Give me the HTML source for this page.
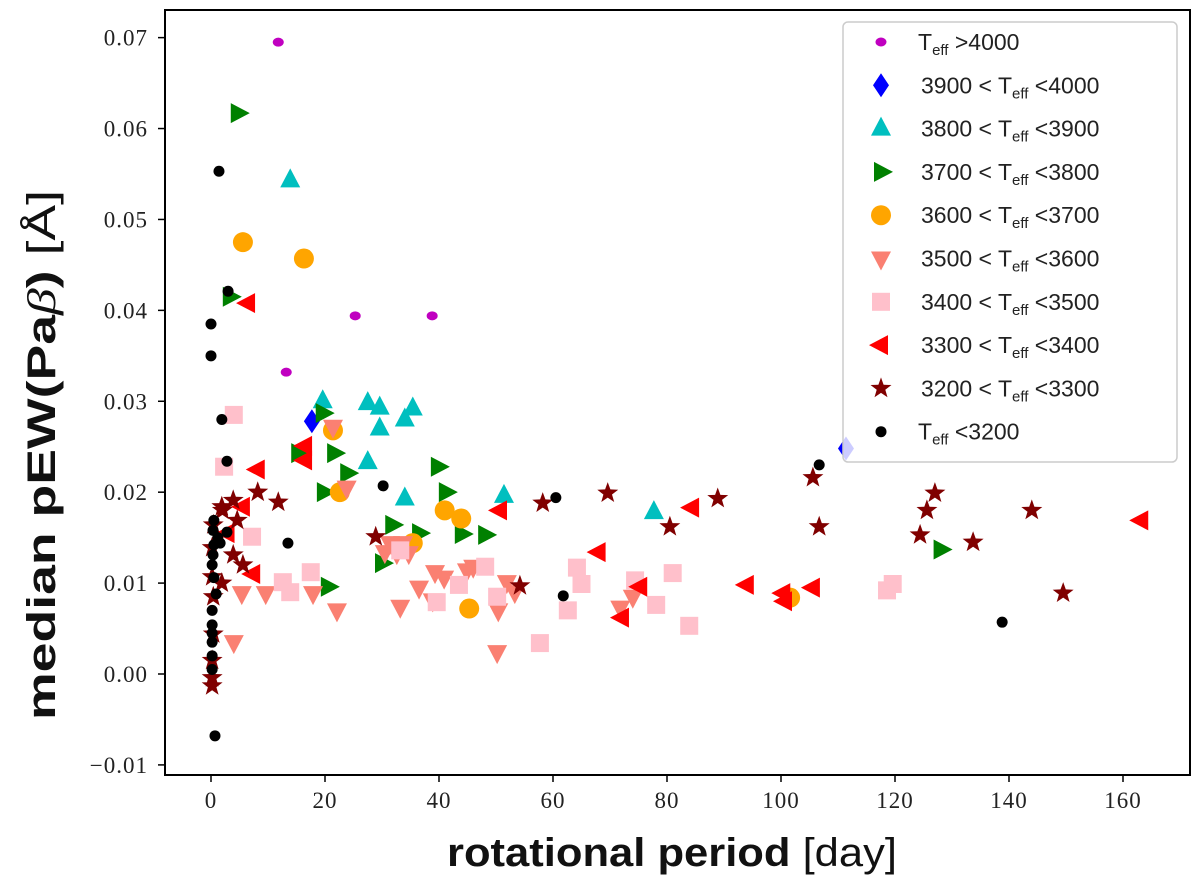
<!DOCTYPE html>
<html><head><meta charset="utf-8"><style>
html,body{margin:0;padding:0;background:#fff;}
svg{display:block;}
.tick{font-family:"Liberation Serif",serif;font-size:23px;fill:#222;letter-spacing:1px;}
.leg{font-family:"Liberation Sans",sans-serif;font-size:23px;fill:#222;}
</style></head><body>
<svg id="chart" width="1200" height="879" viewBox="0 0 1200 879" xmlns="http://www.w3.org/2000/svg">
<rect x="165" y="10" width="1025" height="765" fill="#fff" stroke="#000" stroke-width="2"/>
<g id="ticks"></g>
<g id="marks"></g>
<text x="55" y="455" transform="rotate(-90 55 455)" text-anchor="middle" textLength="530" lengthAdjust="spacingAndGlyphs" font-family="Liberation Sans, sans-serif" font-size="40" fill="#111"><tspan font-weight="bold">median pEW(Pa</tspan><tspan font-style="italic" font-family="Liberation Serif, serif">β</tspan><tspan font-weight="bold">)</tspan> [Å]</text>
<text x="672" y="866" text-anchor="middle" textLength="450" lengthAdjust="spacingAndGlyphs" font-family="Liberation Sans, sans-serif" font-size="40" fill="#111"><tspan font-weight="bold">rotational period</tspan> [day]</text>
<g id="legend"></g>
</svg>
<script>
const xTicks=[0,20,40,60,80,100,120,140,160];
const yTicks=[-0.01,0.00,0.01,0.02,0.03,0.04,0.05,0.06,0.07];
const yTickLabels=["−0.01","0.00","0.01","0.02","0.03","0.04","0.05","0.06","0.07"];
const sHot_x=[11.8,25.3,38.8,13.2];
const sHot_y=[0.0695,0.0394,0.0394,0.0332];
const s3900_x=[17.7,111.4];
const s3900_y=[0.0278,0.0248];
const s3800_x=[13.9,19.6,27.5,29.6,29.6,34,35.4,27.5,34,51.4,77.7];
const s3800_y=[0.0543,0.0300,0.0298,0.0293,0.0270,0.0280,0.0292,0.0233,0.0193,0.0196,0.0178];
const s3700_x=[4.7,3.3,19.6,15.3,21.6,23.9,19.8,39.8,41.2,31.8,36.5,44,48.1,30,20.5,128];
const s3700_y=[0.0617,0.0415,0.0287,0.0243,0.0243,0.0221,0.0200,0.0228,0.0200,0.0164,0.0155,0.0154,0.0153,0.0122,0.0096,0.0137];
const s3600_x=[5.6,16.3,21.4,22.6,41,43.9,35.4,45.3,101.6];
const s3600_y=[0.0475,0.0457,0.0268,0.0200,0.0180,0.0171,0.0144,0.0072,0.0084];
const s3500_x=[21.4,23.8,31.4,33.7,32.6,34.7,30.5,5.4,9.6,17.9,22.1,33.2,36.5,39.3,40.9,38.9,44.9,46,51.9,53.3,50.4,50.2,4,74,71.8];
const s3500_y=[0.0272,0.0205,0.0144,0.0144,0.0133,0.0133,0.0134,0.0089,0.0089,0.0089,0.0070,0.0074,0.0095,0.0112,0.0106,0.0081,0.0114,0.0118,0.0101,0.0090,0.0070,0.0024,0.0035,0.0085,0.0073];
const s3400_x=[4,2.3,7.2,12.6,13.9,17.5,33.2,39.6,43.5,48.1,50.2,57.7,62.6,64.2,65,74.4,78.1,81,83.9,118.6,119.6];
const s3400_y=[0.0285,0.0228,0.0151,0.0101,0.0090,0.0112,0.0136,0.0079,0.0098,0.0118,0.0085,0.0034,0.0070,0.0117,0.0099,0.0103,0.0076,0.0111,0.0053,0.0092,0.0099];
const s3300_x=[6.5,8.2,16.5,16.5,5.6,7.4,2.9,50.7,84.4,68,75.3,72.1,94,100.4,100.7,105.6,163.2];
const s3300_y=[0.0408,0.0225,0.0251,0.0235,0.0184,0.0110,0.0155,0.0180,0.0183,0.0134,0.0096,0.0062,0.0098,0.0089,0.0080,0.0095,0.0169];
const s3200_x=[0.4,0.2,0.2,0.4,0.4,0.2,0.2,0.2,1.9,3.9,4.6,3.9,5.6,1.9,8.2,11.8,2,28.9,54.2,69.6,58.2,80.5,88.9,105.6,106.7,127,125.6,124.4,144,133.7,149.5];
const s3200_y=[0.0164,0.0139,0.0107,0.0085,0.0044,0.0015,-0.0004,-0.0013,0.0184,0.0191,0.0169,0.0131,0.0120,0.0100,0.0200,0.0189,0.0180,0.0151,0.0097,0.0199,0.0188,0.0162,0.0193,0.0216,0.0162,0.0199,0.0180,0.0153,0.0180,0.0145,0.0089];
const sCool_x=[1.4,3,0,0,1.9,2.8,13.5,30.2,60.5,106.7,61.8,138.8,0.5,0.35,1.2,0.5,0.35,0.2,0.5,0.9,0.2,0.2,0.2,0.2,0.2,0.2,0.7,2.8,1.6];
const sCool_y=[0.0553,0.0421,0.0385,0.0350,0.0280,0.0234,0.0144,0.0207,0.0194,0.0230,0.0086,0.0057,0.0169,0.0158,0.0150,0.0142,0.0131,0.0120,0.0106,0.0088,0.0070,0.0054,0.0045,0.0035,0.0020,0.0005,-0.0068,0.0156,0.0144];

const NS="http://www.w3.org/2000/svg";
function X(v){return 211+v*5.7;}
function Y(v){return 674-v*9091;}
function mk(tag,attrs,parent){const e=document.createElementNS(NS,tag);for(const k in attrs)e.setAttribute(k,attrs[k]);parent.appendChild(e);return e;}
const ticks=document.getElementById('ticks');
xTicks.forEach(t=>{
  const l=mk('line',{x1:X(t),x2:X(t),y1:775,y2:782,stroke:'#000','stroke-width':1.5},ticks);
  
  
  const tx=mk('text',{x:X(t),y:808,'text-anchor':'middle',class:'tick'},ticks);tx.textContent=t;
  
  
});
yTicks.forEach((t,i)=>{
  const l=mk('line',{x1:158,x2:165,y1:Y(t),y2:Y(t),stroke:'#000','stroke-width':1.5},ticks);
  
  
  const tx=mk('text',{x:148,y:Y(t)+8,'text-anchor':'end',class:'tick'},ticks);tx.textContent=yTickLabels[i];
  
  
});
function shape(kind,cx,cy,color,parent){
  let e;
  if(kind==='dotS')e=mk('ellipse',{cx,cy,rx:5.5,ry:4.5,fill:color},parent);
  else if(kind==='dot')e=mk('circle',{cx,cy,r:5.5,fill:color},parent);
  else if(kind==='circ')e=mk('circle',{cx,cy,r:10,fill:color},parent);
  else if(kind==='diam')e=mk('polygon',{points:`${cx},${cy-12} ${cx+8},${cy} ${cx},${cy+12} ${cx-8},${cy}`,fill:color},parent);
  else if(kind==='up')e=mk('polygon',{points:`${cx},${cy-12} ${cx+10},${cy+7} ${cx-10},${cy+7}`,fill:color},parent);
  else if(kind==='down')e=mk('polygon',{points:`${cx},${cy+12} ${cx+10},${cy-7} ${cx-10},${cy-7}`,fill:color},parent);
  else if(kind==='right')e=mk('polygon',{points:`${cx+12},${cy} ${cx-7},${cy+10} ${cx-7},${cy-10}`,fill:color},parent);
  else if(kind==='left')e=mk('polygon',{points:`${cx-12},${cy} ${cx+7},${cy+10} ${cx+7},${cy-10}`,fill:color},parent);
  else if(kind==='sq')e=mk('rect',{x:cx-9,y:cy-9,width:18,height:18,fill:color},parent);
  else if(kind==='star'){let p=[];for(let i=0;i<10;i++){const r=i%2?4.5:11;const a=-Math.PI/2+i*Math.PI/5;p.push((cx+r*Math.cos(a)).toFixed(1)+','+(cy+r*Math.sin(a)).toFixed(1));}e=mk('polygon',{points:p.join(' '),fill:color},parent);}
  return e;
}
const series=[
 {xs:sHot_x,ys:sHot_y,k:'dotS',c:'#c000c0',lab:['',' >4000'],name:'teff-above-4000'},
 {xs:s3900_x,ys:s3900_y,k:'diam',c:'#0000ff',lab:['3900 < ',' <4000'],name:'teff-3900-4000'},
 {xs:s3800_x,ys:s3800_y,k:'up',c:'#00bfbf',lab:['3800 < ',' <3900'],name:'teff-3800-3900'},
 {xs:s3700_x,ys:s3700_y,k:'right',c:'#008000',lab:['3700 < ',' <3800'],name:'teff-3700-3800'},
 {xs:s3600_x,ys:s3600_y,k:'circ',c:'#ffa500',lab:['3600 < ',' <3700'],name:'teff-3600-3700'},
 {xs:s3500_x,ys:s3500_y,k:'down',c:'#fa8072',lab:['3500 < ',' <3600'],name:'teff-3500-3600'},
 {xs:s3400_x,ys:s3400_y,k:'sq',c:'#ffc0cb',lab:['3400 < ',' <3500'],name:'teff-3400-3500'},
 {xs:s3300_x,ys:s3300_y,k:'left',c:'#ff0000',lab:['3300 < ',' <3400'],name:'teff-3300-3400'},
 {xs:s3200_x,ys:s3200_y,k:'star',c:'#800000',lab:['3200 < ',' <3300'],name:'teff-3200-3300'},
 {xs:sCool_x,ys:sCool_y,k:'dot',c:'#000000',lab:['',' <3200'],name:'teff-below-3200'}
];
const marks=document.getElementById('marks');
series.forEach(s=>{
  const g=mk('g',{},marks);
  
  
  s.xs.forEach((xv,i)=>{
    const e=shape(s.k,X(xv),Y(s.ys[i]),s.c,g);
    
    
  });
});
const leg=document.getElementById('legend');
const box=mk('rect',{x:843,y:22,width:334,height:440,rx:5,fill:'#fff','fill-opacity':0.8,stroke:'#ccc','stroke-width':1.5},leg);


series.forEach((s,i)=>{
  const y=42+i*43.3;
  const g=mk('g',{},leg);
  
  
  shape(s.k,881,y,s.c,g);
  const t=mk('text',{x:s.lab[0]?921:918,y:y+8,class:'leg'},g);
  const a=mk('tspan',{},t);a.textContent=s.lab[0]+'T';
  const b=mk('tspan',{'font-size':15,dy:5},t);b.textContent='eff';
  const c=mk('tspan',{dy:-5},t);c.textContent=' '+s.lab[1];
});
</script>
</body></html>
